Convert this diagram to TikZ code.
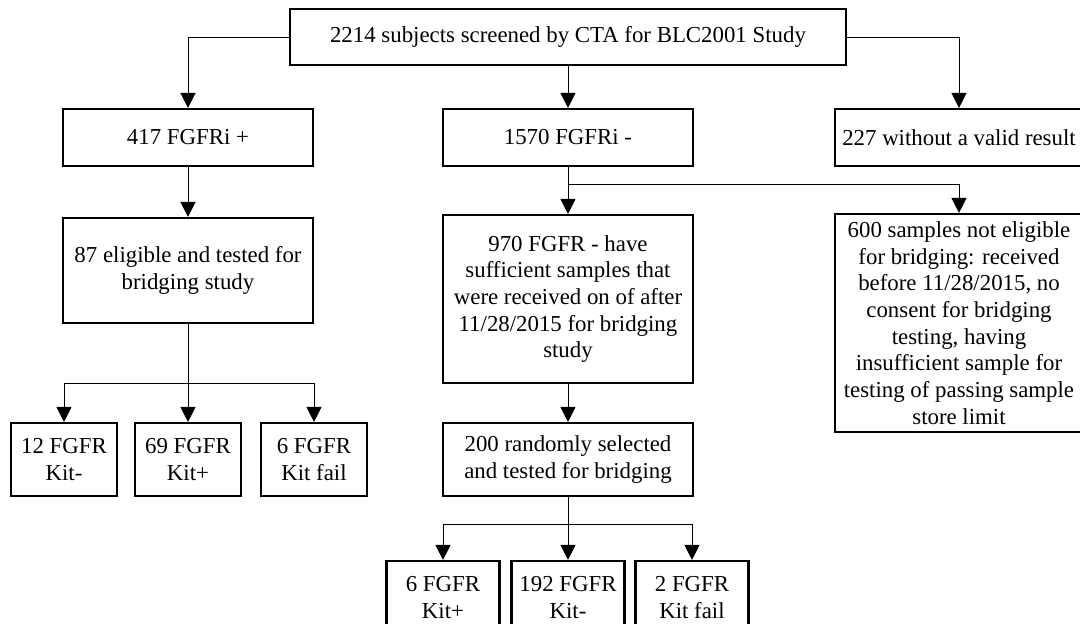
\documentclass[tikz,border=0pt]{standalone}
\usepackage{fontspec}
\setmainfont{Liberation Serif}
\usetikzlibrary{arrows.meta}
\tikzset{
  box/.style={draw,line width=1.2pt,align=center,inner sep=0pt,fill=white,
    font=\fontsize{13}{15.2}\selectfont},
  wh/.style 2 args={minimum width=#1*0.02cm,minimum height=#2*0.02cm},
  link/.style={line width=0.55pt,-{Triangle[length=0.3cm,width=0.3cm]}}
}

\begin{document}
\begin{tikzpicture}[x=0.02cm,y=-0.02cm]
  \useasboundingbox (0,0) rectangle (1080,624);
  \clip (0,0) rectangle (1080,624);

  \node[box,wh={556}{56}] (screen) at (568,37) {2214 subjects screened by CTA for BLC2001 Study};
  \node[box,wh={250}{57}] (pos) at (188,137.5) {417 FGFRi +};
  \node[box,wh={250}{57}] (neg) at (568,137.5) {1570 FGFRi -};
  \node[box,wh={248}{57}] (invalid) at (959,137.5) {227 without a valid result};

  \node[box,wh={250}{105}] (elig) at (188,270.5) {87 eligible and tested for\\bridging study};
  \node[box,wh={250}{168}] (suff) at (568,299) {970 FGFR - have\\sufficient samples that\\were received on of after\\11/28/2015 for bridging\\study};
  \node[box,wh={248}{218}] (noelig) at (959,323) {600 samples not eligible\\for bridging: received\\before 11/28/2015, no\\consent for bridging\\testing, having\\insufficient sample for\\testing of passing sample\\store limit};
  \node[box,wh={250}{73}] (rand) at (568,459.5) {200 randomly selected\\and tested for bridging};

  \foreach \x/\nm/\txt in {64/kitneg/{12 FGFR\\Kit-},188/kitpos/{69 FGFR\\Kit+},314/kitfail/{6 FGFR\\Kit fail}}
    \node[box,wh={106}{73}] (\nm) at (\x,459.5) {\txt};
  \foreach \x/\nm/\txt in {443/randpos/{6 FGFR\\Kit+},568/randneg/{192 FGFR\\Kit-},692/randfail/{2 FGFR\\Kit fail}}
    \node[box,wh={113}{73}] (\nm) at (\x,597.5) {\txt};

  \coordinate (splitneg) at (568,184);
  \coordinate (forkA) at (188,383);
  \coordinate (forkB) at (568,524);

  \draw[link] (screen.west) -| (pos.north);
  \draw[link] (screen.south) -- (neg.north);
  \draw[link] (screen.east) -| (invalid.north);
  \draw[link] (pos.south) -- (elig.north);
  \draw[link] (neg.south) -- (suff.north);
  \draw[link] (splitneg) -| (noelig.north);
  \draw[link] (suff.south) -- (rand.north);

  \draw[line width=0.55pt] (elig.south) -- (forkA);
  \foreach \nm in {kitneg,kitpos,kitfail}
    \draw[link] (forkA) -| (\nm.north);
  \draw[line width=0.55pt] (rand.south) -- (forkB);
  \foreach \nm in {randpos,randneg,randfail}
    \draw[link] (forkB) -| (\nm.north);
\end{tikzpicture}
\end{document}
